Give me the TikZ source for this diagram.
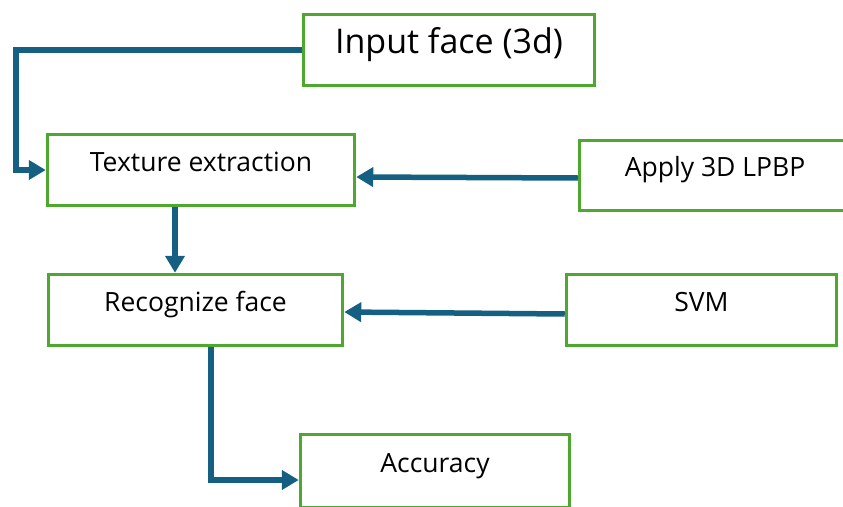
\documentclass[tikz,border=0pt]{standalone}
\usepackage{fontspec}
\setmainfont{Open Sans}
\usepackage{tikz}
\usetikzlibrary{arrows.meta,calc}

\definecolor{boxgreen}{HTML}{4EA72E}
\definecolor{arrowblue}{HTML}{156082}

\tikzset{
  stage/.style={draw=boxgreen,line width=3.5pt,rectangle,inner sep=0pt,
    font=\fontsize{26.5}{31}\selectfont,text height=0.7em,text depth=0.5em},
  flow/.style={arrowblue,line width=5.5pt,
    -{Triangle[length=17pt,width=19pt]}},
}

\begin{document}
\begin{tikzpicture}[x=1pt,y=-1pt]
  \useasboundingbox (0,0) rectangle (843,506);
  % boxes
  \node[stage,minimum width=291pt,minimum height=71pt,
    font=\fontsize{34}{40}\selectfont,text height=1.1em] (input) at (449,50) {Input face (3d)};
  \node[stage,minimum width=307pt,minimum height=71pt] (texture) at (201,170) {Texture extraction};
  \node[stage,minimum width=271pt,minimum height=70pt] (lpbp) at (715,175.5) {Apply 3D LPBP};
  \node[stage,minimum width=294pt,minimum height=71pt] (recog) at (195.5,310) {Recognize face};
  \node[stage,minimum width=270pt,minimum height=71pt] (svm) at (701.5,310) {SVM};
  \node[stage,minimum width=269pt,minimum height=73pt] (acc) at (435,471) {Accuracy};
  % connectors
  \draw[flow] (input.west) -- ++(-286,0) |- (texture.west);
  \draw[flow] ([yshift=-2.5pt]lpbp.west) -- ([yshift=-7pt]texture.east);
  \draw[flow] ([xshift=-26pt]texture.south) -- ([xshift=-26pt]texture.south |- recog.north);
  \draw[flow] ([yshift=-4pt]svm.west) -- ([yshift=-2pt]recog.east);
  \draw[flow] ([xshift=15.5pt]recog.south) |- ([yshift=-9pt]acc.west);
\end{tikzpicture}
\end{document}
